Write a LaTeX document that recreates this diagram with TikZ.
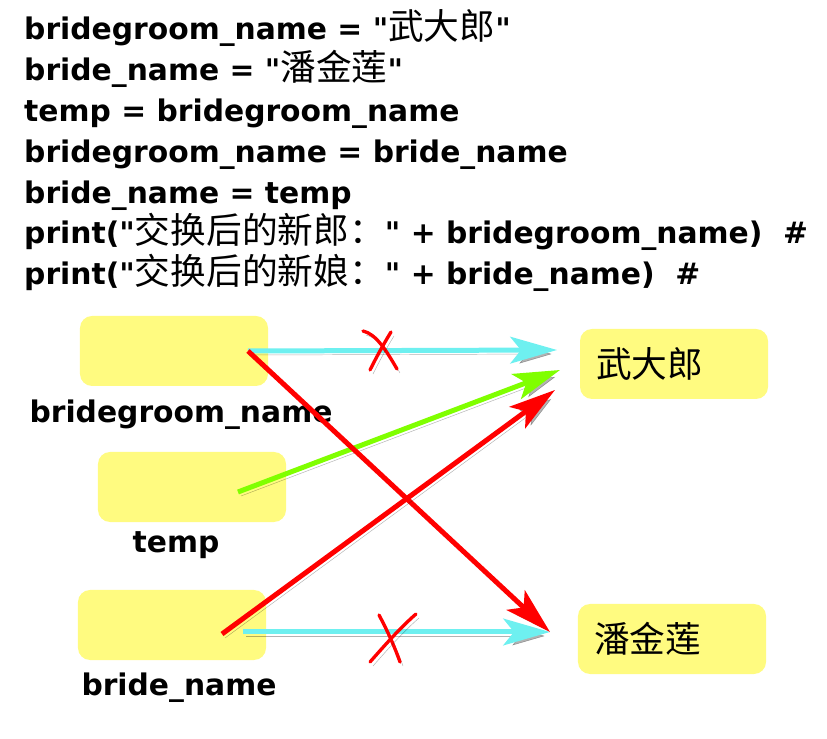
\documentclass[tikz,border=0pt]{standalone}
\usepackage{fontspec}
\setmainfont{DejaVu Sans}[Ligatures=TeXOff]
\newfontfamily\cjk[Scale=1.2]{Noto Sans CJK SC}
\usetikzlibrary{arrows.meta}
\definecolor{amarillo}{RGB}{255,251,128}
\definecolor{cian}{RGB}{110,240,240}
\definecolor{verde}{RGB}{128,255,0}
\newcommand{\zh}[1]{{\cjk\mdseries #1}}
\begin{document}
\begin{tikzpicture}[x=0.03cm, y=-0.03cm,
		codigo/.style={inner sep=0pt, font=\bfseries\fontsize{25.4pt}{34.8pt}\selectfont},
		caja/.style={fill=amarillo, rounded corners=0.36cm, minimum height=2.1cm, text width=4.68cm, inner xsep=0.48cm, inner ysep=0pt, align=left, font=\fontsize{25.4pt}{30pt}\selectfont\cjk},
		etiqueta/.style={inner sep=0pt, font=\bfseries\fontsize{25.4pt}{30pt}\selectfont},
		sombra/.style={preaction={draw=black, opacity=0.3, transform canvas={shift={(3,4)}}}},
		flecha/.style={sombra, line width=0.15cm, -{Stealth[length=1.4cm, width=0.8cm, inset=0.32cm]}},
		tacha/.style={sombra, draw=red, line width=0.1cm, line cap=round}]
		\useasboundingbox (0,0) rectangle (827,739);

		% código
		\foreach \texto [count=\i from 0] in {
			bridegroom\_name = "\zh{武大郎}",
			bride\_name = "\zh{潘金莲}",
			temp = bridegroom\_name,
			bridegroom\_name = bride\_name,
			bride\_name = temp,
			print("\zh{交换后的新郎：}" + bridegroom\_name)~~\#,
			print("\zh{交换后的新娘：}" + bride\_name)~~\#}
			\node[codigo, anchor=base west] (linea\i) at (24, 40+40.8*\i) {\texto};

		% cajas de variables y valores
		\node[caja] (novio) at (174,351) {};
		\node[caja] (temp) at (192,487) {};
		\node[caja] (novia) at (172,625) {};
		\node[caja] (wu) at (674,364) {武大郎};
		\node[caja] (pan) at (672,639) {潘金莲};

		% nombres debajo de las cajas
		\node[etiqueta, anchor=base] (lnovio) at (181,423) {bridegroom\_name};
		\node[etiqueta, anchor=base] (ltemp) at (176,553) {temp};
		\node[etiqueta, anchor=base] (lnovia) at (179,696) {bride\_name};

		% puntos de salida y llegada
		\coordinate (snovio) at (248,351);
		\coordinate (stemp) at (238,492);
		\coordinate (snovia) at (222,634);
		\coordinate (snovia2) at (243,632);
		\coordinate (wu1) at (557,350);
		\coordinate (wu2) at (560,370);
		\coordinate (wu3) at (555,390);
		\coordinate (pan1) at (550,632);

		% flechas
		\draw[flecha, cian] (snovio) -- (wu1);
		\draw[flecha, cian] (snovia2) -- (pan1);
		\draw[flecha, verde] (stemp) -- (wu2);
		\draw[flecha, red] (snovio) -- (pan1);
		\draw[flecha, red] (snovia) -- (wu3);

		% tachaduras
		\draw[tacha] (363,331) .. controls (376,334) and (386,350) .. (397,369);
		\draw[tacha] (391,332) .. controls (383,345) and (376,358) .. (370,370);
		\draw[tacha] (379,615) .. controls (386,628) and (394,645) .. (400,662);
		\draw[tacha] (416,614) .. controls (400,628) and (385,645) .. (370,662);
	\end{tikzpicture}
\end{document}
